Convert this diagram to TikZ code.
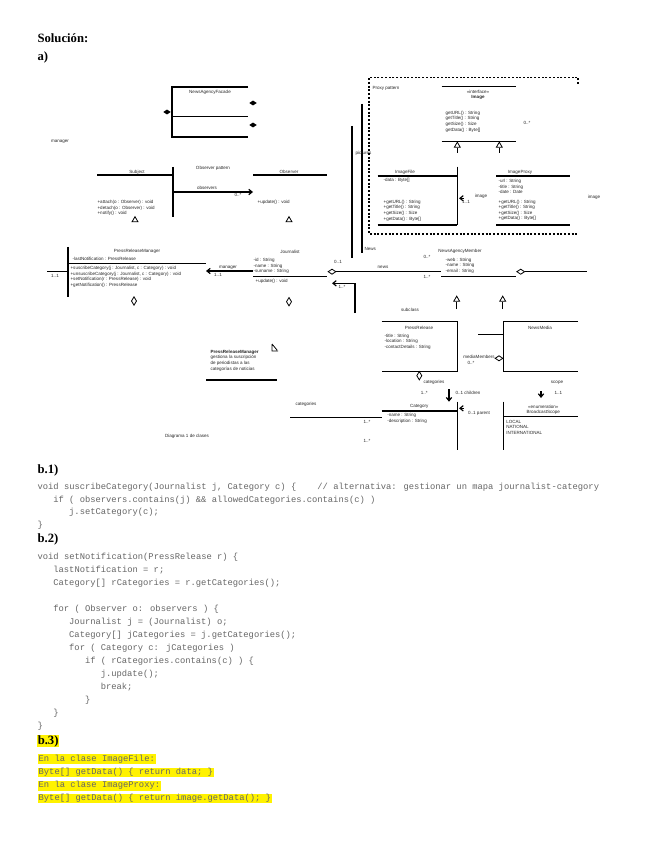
\documentclass[tikz,border=0pt]{standalone}
\usepackage{fontspec}
\setmainfont{Liberation Serif}
\newfontfamily\codefont{Liberation Mono}
\newfontfamily\umlfont{Liberation Sans}
\usetikzlibrary{shapes.geometric,arrows.meta}
\colorlet{codecol}{black!60}
\begin{document}
\begin{tikzpicture}[x=0.75pt,y=-0.75pt,line width=0.9pt,
  >={Straight Barb[length=2.5pt,width=4pt]},
  uml/.style={font=\umlfont\fontsize{3.4}{4.2}\selectfont, inner sep=0pt, anchor=west, align=left, text=black!85},
  umlc/.style={uml, anchor=center, align=center},
  head/.style={font=\bfseries\fontsize{9.5}{11}\selectfont, inner sep=0pt, anchor=west, text height=6.5pt, text depth=1.5pt},
  code/.style={font=\codefont\fontsize{6.6}{8}\selectfont, text=codecol, inner sep=0pt, anchor=west, text height=4.6pt, text depth=1.4pt},
  hlt/.style={code, fill=yellow, inner xsep=0.8pt, inner ysep=0.6pt},
  fdia/.style={diamond, fill, inner sep=0pt, minimum width=6pt, minimum height=4pt},
  hdia/.style={diamond, draw, line width=0.6pt, fill=white, inner sep=0pt, minimum width=6pt, minimum height=4pt},
  vdia/.style={hdia, minimum width=4pt, minimum height=6.5pt},
  gen/.style={regular polygon, regular polygon sides=3, draw, line width=0.6pt, fill=white, inner sep=0pt, minimum size=5pt}]
\fill[white] (0,0) rectangle (655,848);
\node[head] (sol) at (37,39) {Solución:};
\node[head] (ha) at (37,57) {a)};
% diagrama de clases
\draw (248,87) -- (172,87) -- (172,137) -- (248,137);
\draw (172,116.7) -- (248,116.7);
\node[umlc] (fac) at (210,92) {NewsAgencyFacade};
\node[fdia] (fd0) at (167,112) {};
\node[fdia] (fd1) at (253,103) {};
\node[fdia] (fd2) at (253,125) {};
\node[umlc] (mgr) at (60,142) {manager};
\node[umlc] (obp) at (213,168) {Observer pattern};
\draw (97,175) -- (173,175);
\draw (173,167) -- (173,217);
\node[umlc] (sub) at (137,172) {Subject};
\node[uml] (subo) at (97,208) {+attach(o : Observer) : void\\+detach(o : Observer) : void\\+notify() : void};
\draw (253,175) -- (327,175);
\node[umlc] (obs) at (289,172) {Observer};
\node[uml] (obso) at (257,202) {+update() : void};
\coordinate (so1) at (173,192);
\coordinate (so2) at (253,192);
\draw[->] (so1) -- (so2);
\node[umlc] (sol1) at (207,188) {observers};
\node[umlc] (sol2) at (238,194.5) {0..*};
\node[gen] (g1) at (135,220) {};
\node[gen] (g2) at (289,220) {};
\coordinate (va1) at (352,126);
\coordinate (va2) at (352,258);
\draw (va1) -- (va2);
\coordinate (vb1) at (362,104);
\coordinate (vb2) at (362,253);
\draw (vb1) -- (vb2);
\node[uml] (pic) at (355,153) {pictures};
\node[uml] (nws) at (364,249) {News};
% proxy
\draw[dashed, dash pattern=on 1.5pt off 1.3pt] (578,84) -- (578,77.3) -- (369,77.3) -- (369,234) -- (578,234);
\node[umlc] (pxp) at (386,88.3) {Proxy pattern};
\draw (441.7,86.7) -- (515.7,86.7);
\draw (441.7,141.7) -- (515.7,141.7);
\node[umlc] (img) at (478,95) {«interface»\\\textbf{Image}};
\node[uml] (imgo) at (445,121.5) {getURL() : String\\getTitle() : String\\getSize() : Size\\getData() : Byte[]};
\node[umlc] (imgm) at (527,123) {0..*};
\node[gen] (tr1) at (457.3,145.5) {};
\node[gen] (tr2) at (499.3,145.5) {};
\coordinate (tr1b) at (457.3,153);
\coordinate (tr2b) at (499.3,153);
\draw (tr1b) -- (tr1.south);
\draw (tr2b) -- (tr2.south);
\draw (377.7,176) -- (457.3,176);
\draw (457.3,166.7) -- (457.3,225);
\draw (377.7,225) -- (457.3,225);
\node[umlc] (ifl) at (405,172.7) {ImageFile};
\node[uml] (ifla) at (383,180) {-data : Byte[]};
\node[uml] (iflo) at (383,210.5) {+getURL() : String\\+getTitle() : String\\+getSize() : Size\\+getData() : Byte[]};
\draw (496,176) -- (570,176);
\draw (496,225) -- (570,225);
\node[umlc] (ipx) at (520,172.7) {ImageProxy};
\node[uml] (ipxa) at (498,186.5) {-url : String\\-title : String\\-date : Date};
\node[uml] (ipxo) at (498,210.3) {+getURL() : String\\+getTitle() : String\\+getSize() : Size\\+getData() : Byte[]};
\coordinate (ia1) at (464,198.3);
\coordinate (ia2) at (459,198.3);
\draw[->] (ia1) -- (ia2);
\node[umlc] (ial) at (481,196.7) {image};
\node[umlc] (iam) at (466,202) {1..1};
\node[umlc] (iml) at (594,197.7) {image};
% press release manager y journalist
\draw (68,247) -- (68,297);
\draw (68,263.3) -- (206,263.3);
\node[umlc] (prm) at (137,251) {PressReleaseManager};
\node[uml] (prma) at (72,258.5) {-lastNotification : PressRelease};
\node[uml] (prmo) at (70,277) {+suscribeCategory(j : Journalist, c : Category) : void\\+unsuscribeCategory(j : Journalist, c : Category) : void\\+setNotification(r : PressRelease) : void\\+getNotification() : PressRelease};
\coordinate (st1) at (47,271.7);
\coordinate (st2) at (68,271.7);
\draw (st1) -- (st2);
\node[umlc] (stm) at (55,276) {1..1};
\node[vdia] (hd1) at (134,301) {};
\node[umlc] (jou) at (290,251.7) {Journalist};
\node[uml] (joua) at (253,266) {-id : String\\-name : String\\-surname : String};
\draw (253,276.7) -- (327,276.7);
\node[uml] (jouo) at (255,281.5) {+update() : void};
\node[vdia] (hd2) at (289,301.7) {};
\coordinate (jm1) at (253,271);
\coordinate (jm2) at (206,271);
\draw[->] (jm1) -- (jm2);
\node[umlc] (jml) at (228,268) {manager};
\node[umlc] (jmm) at (218,274.5) {1..1};
\node[hdia] (hd3) at (332,271.7) {};
\coordinate (nm1) at (441,271.7);
\draw (hd3) -- (nm1);
\node[umlc] (hd3m) at (338,262.3) {0..1};
\node[umlc] (nml) at (383,267.7) {news};
\node[umlc] (nmm1) at (427,257.3) {0..*};
\node[umlc] (nmm2) at (427,276.7) {1..*};
\coordinate (jb1) at (355,313);
\coordinate (jb2) at (355,283.3);
\coordinate (jb3) at (332,283.3);
\draw[->] (jb1) -- (jb2) -- (jb3);
\node[umlc] (jbm) at (342,287) {1..*};
\node[umlc] (nam) at (460,251.7) {NewsAgencyMember};
\node[uml] (nama) at (445,265.7) {-web : String\\-name : String\\-email : String};
\draw (441,276.7) -- (515.7,276.7);
\node[hdia] (hd4) at (520.7,271.7) {};
\coordinate (nm2) at (587,271.7);
\draw (hd4) -- (nm2);
\node[gen] (tr3) at (456.7,299.5) {};
\node[gen] (tr4) at (502.7,299.5) {};
\coordinate (tr3b) at (456.7,309);
\coordinate (tr4b) at (502.7,309);
\draw (tr3b) -- (tr3.south);
\draw (tr4b) -- (tr4.south);
\node[umlc] (sbc) at (410,310) {subclass};
\draw (381.7,321.7) -- (457.7,321.7) -- (457.7,371.7) -- (381.7,371.7);
\node[umlc] (prr) at (419,327.7) {PressRelease};
\node[uml] (prra) at (384,341.7) {-title : String\\-location : String\\-contactDetails : String};
\draw (578,321.7) -- (503.3,321.7) -- (503.3,371.7) -- (578,371.7);
\node[umlc] (nmd) at (540,327.7) {NewsMedia};
\coordinate (md1) at (478,334.3);
\coordinate (md2) at (503.3,334.3);
\draw (md1) -- (md2);
\node[hdia] (hd5) at (499,358.3) {};
\node[umlc] (hd5l) at (479,356.7) {mediaMembers};
\node[umlc] (hd5m) at (471,363.3) {0..*};
\node[vdia] (hd6) at (419.3,375.7) {};
\node[umlc] (hd6l) at (434,382.7) {categories};
\node[umlc] (hd6m) at (424.3,393.3) {1..*};
\coordinate (ch1) at (449,389);
\coordinate (ch2) at (449,401.7);
\draw[->] (ch1) -- (ch2);
\node[umlc] (chl) at (468,393.3) {0..1 children};
% category y enum
\draw (381.7,411) -- (457.7,411);
\draw (457.7,401.7) -- (457.7,450);
\node[umlc] (cat) at (419.3,406.7) {Category};
\node[uml] (cata) at (386.7,418.3) {-name : String\\-description : String};
\coordinate (ct1) at (290,417.7);
\coordinate (ct2) at (381.7,417.7);
\draw (ct1) -- (ct2);
\node[umlc] (ctl) at (306,404) {categories};
\node[umlc] (ctm1) at (367,421.7) {1..*};
\node[umlc] (ctm2) at (367,441) {1..*};
\coordinate (pa1) at (464,408.3);
\coordinate (pa2) at (459,408.3);
\draw[->] (pa1) -- (pa2);
\node[umlc] (pal) at (479,413.3) {0..1 parent};
\node[umlc] (enm) at (543.3,409.7) {«enumeration»\\BroadcastScope};
\draw (503.3,416.7) -- (578,416.7);
\draw (503.3,401.7) -- (503.3,450);
\node[uml] (enma) at (505.7,427.3) {LOCAL\\NATIONAL\\INTERNATIONAL};
\node[umlc] (scl) at (557,382.3) {scope};
\node[umlc] (scm) at (558.3,393.3) {1..1};
\coordinate (sc1) at (541,391);
\coordinate (sc2) at (541,398);
\draw[->] (sc1) -- (sc2);
% nota
\node[uml] (nte) at (210,360.5) {\textbf{PressReleaseManager}\\gestiona la suscripción\\de periodistas a las\\categorías de noticias};
\draw (206,380) -- (276.7,380);
\draw[line width=0.6pt] (272,344) -- (272,351) -- (278,351) (272,344) -- (277,350);
\node[umlc] (cap) at (187,436) {Diagrama 1 de clases};
% b.1
\node[head] (hb1) at (37,470) {b.1)};
\node[code] (c1) at (37,487.5) {void suscribeCategory(Journalist j, Category c) \{~~~~// alternativa: gestionar un mapa journalist-category};
\node[code] (c2) at (52.8,500) {if ( observers.contains(j) \&\& allowedCategories.contains(c) )};
\node[code] (c3) at (68.6,512.5) {j.setCategory(c);};
\node[code] (c4) at (37,525.5) {\}};
% b.2
\node[head] (hb2) at (37,539) {b.2)};
\node[code] (d1) at (37,557) {void setNotification(PressRelease r) \{};
\node[code] (d2) at (52.8,570) {lastNotification = r;};
\node[code] (d3) at (52.8,583) {Category[] rCategories = r.getCategories();};
\node[code] (d4) at (52.8,609) {for ( Observer o: observers ) \{};
\node[code] (d5) at (68.6,622) {Journalist j = (Journalist) o;};
\node[code] (d6) at (68.6,635) {Category[] jCategories = j.getCategories();};
\node[code] (d7) at (68.6,648) {for ( Category c: jCategories )};
\node[code] (d8) at (84.4,661) {if ( rCategories.contains(c) ) \{};
\node[code] (d9) at (100.2,674) {j.update();};
\node[code] (d10) at (100.2,687) {break;};
\node[code] (d11) at (84.4,700) {\}};
\node[code] (d12) at (52.8,713) {\}};
\node[code] (d13) at (37,726) {\}};
% b.3
\node[head, fill=yellow, inner sep=0.5pt] (hb3) at (36.5,741) {b.3)};
\node[hlt] (e1) at (37,759) {En la clase ImageFile:};
\node[hlt] (e2) at (37,772.3) {Byte[] getData() \{ return data; \}};
\node[hlt] (e3) at (37,785.7) {En la clase ImageProxy:};
\node[hlt] (e4) at (37,798.3) {Byte[] getData() \{ return image.getData(); \}};
\end{tikzpicture}
\end{document}
